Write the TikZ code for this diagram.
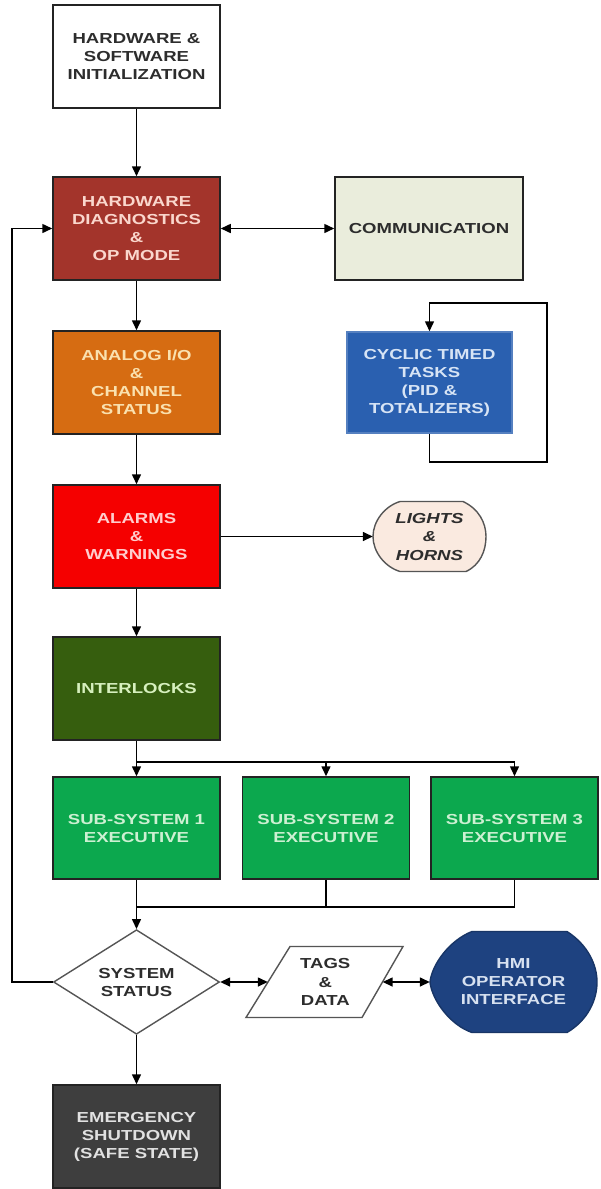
\documentclass[tikz,border=0pt]{standalone}
\usepackage{fontspec}
\newfontfamily\lbl{Liberation Sans}[FakeStretch=1.28]
\usetikzlibrary{arrows.meta,shapes.geometric}
\definecolor{diagfill}{RGB}{163,52,43}
\definecolor{diagtxt}{RGB}{250,215,205}
\definecolor{analogfill}{RGB}{214,108,18}
\definecolor{analogtxt}{RGB}{250,225,175}
\definecolor{alarmfill}{RGB}{245,0,0}
\definecolor{alarmtxt}{RGB}{255,205,205}
\definecolor{interfill}{RGB}{54,94,14}
\definecolor{intertxt}{RGB}{215,240,190}
\definecolor{subfill}{RGB}{12,168,78}
\definecolor{subtxt}{RGB}{205,240,210}
\definecolor{cycfill}{RGB}{42,96,176}
\definecolor{cyctxt}{RGB}{215,228,245}
\definecolor{hmifill}{RGB}{30,66,128}
\definecolor{hmitxt}{RGB}{215,225,240}
\definecolor{emfill}{RGB}{62,62,62}
\definecolor{emtxt}{RGB}{225,225,225}
\definecolor{commfill}{RGB}{234,237,220}
\definecolor{lightfill}{RGB}{250,234,224}
\definecolor{txtdark}{RGB}{45,45,45}
\definecolor{edge}{RGB}{35,35,35}
\definecolor{grayedge}{RGB}{85,85,85}
\begin{document}
\begin{tikzpicture}[x=1pt,y=-1pt,
  lbltext/.style={font=\lbl\bfseries\fontsize{14.5}{18}\selectfont, align=center},
  box/.style={lbltext, draw=edge, line width=1.5pt, minimum width=167pt, minimum height=103pt, inner sep=0pt},
  free/.style={lbltext, inner sep=0pt},
  ln/.style={line width=1.5pt, draw=black},
  arr/.style={ln, -{Triangle[length=10pt,width=9pt]}},
  dbl/.style={ln, {Triangle[length=10pt,width=9pt]}-{Triangle[length=10pt,width=9pt]}}]
\fill[white] (0,0) rectangle (600,1189);
\useasboundingbox (0,0) rectangle (600,1189);

% main column
\node[box, fill=white, text=txtdark] (init) at (136.5,56.5) {HARDWARE \&\\SOFTWARE\\INITIALIZATION};
\node[box, fill=diagfill, text=diagtxt] (diag) at (136.5,228.5) {HARDWARE\\DIAGNOSTICS\\\&\\OP MODE};
\node[box, fill=analogfill, text=analogtxt] (analog) at (136.5,382.5) {ANALOG I/O\\\&\\CHANNEL\\STATUS};
\node[box, fill=alarmfill, text=alarmtxt] (alarms) at (136.5,536.5) {ALARMS\\\&\\WARNINGS};
\node[box, fill=interfill, text=intertxt] (inter) at (136.5,688.5) {INTERLOCKS};
\node[box, fill=subfill, text=subtxt, minimum height=102pt] (sub1) at (136.5,828) {SUB-SYSTEM 1\\EXECUTIVE};
\node[box, fill=subfill, text=subtxt, minimum height=102pt] (sub2) at (326,828) {SUB-SYSTEM 2\\EXECUTIVE};
\node[box, fill=subfill, text=subtxt, minimum height=102pt] (sub3) at (514.5,828) {SUB-SYSTEM 3\\EXECUTIVE};
\node[lbltext, diamond, draw=grayedge, line width=1.4pt, fill=white, text=txtdark, minimum width=166pt, minimum height=101pt, inner sep=0pt] (sys) at (136.5,982) {SYSTEM\\STATUS};
\node[box, fill=emfill, text=emtxt] (emerg) at (136.5,1136.5) {EMERGENCY\\SHUTDOWN\\(SAFE STATE)};

% right column
\node[box, fill=commfill, text=txtdark, minimum width=188pt] (comm) at (429,228.5) {COMMUNICATION};
\node[box, fill=cycfill, draw=cycfill!80!white, text=cyctxt, minimum width=165pt, minimum height=101pt] (cyc) at (429.5,382.5) {CYCLIC TIMED\\TASKS\\(PID \&\\TOTALIZERS)};

% lights & horns (display shape)
\filldraw[fill=lightfill, draw=grayedge, line width=1.4pt]
  (400,501.5) -- (463,501.5) .. controls (479,509) and (486,523) .. (486,536.5)
  .. controls (486,551) and (480,565) .. (466,571.5) -- (400,571.5)
  .. controls (385,567) and (373,552) .. (373,536.5)
  .. controls (373,521) and (385,506) .. (400,501.5) -- cycle;
\node[free, text=txtdark, font=\lbl\bfseries\itshape\fontsize{14.5}{18.5}\selectfont, minimum width=113pt, minimum height=70pt] (lights) at (429.5,536.5) {LIGHTS\\\&\\HORNS};

% tags & data (parallelogram)
\filldraw[fill=white, draw=grayedge, line width=1.4pt]
  (290,946.5) -- (403,946.5) -- (362,1017.5) -- (246,1017.5) -- cycle;
\node[free, text=txtdark, font=\lbl\bfseries\fontsize{14.5}{18.5}\selectfont, minimum width=114.5pt, minimum height=71pt] (tags) at (325.25,982) {TAGS\\\&\\DATA};

% HMI operator interface (display shape)
\filldraw[fill=hmifill, draw=hmifill!80!black, line width=1.4pt]
  (472,931.5) -- (567,931.5) .. controls (588,945) and (597,965) .. (597,982)
  .. controls (597,1000) and (588,1020) .. (567,1032.5) -- (472,1032.5)
  .. controls (450,1025) and (432,1000) .. (430,982)
  .. controls (432,964) and (450,940) .. (472,931.5) -- cycle;
\node[free, text=hmitxt, minimum width=167pt, minimum height=101pt] (hmi) at (513.5,982) {HMI\\OPERATOR\\INTERFACE};

% connector points
\coordinate (bt) at (136.5,762);
\coordinate (bb) at (136.5,907);
\coordinate (fb) at (12,982);
\coordinate (c1) at (547,462);
\coordinate (c2) at (547,303);

% connectors
\draw[arr] (init) -- (diag);
\draw[dbl] (diag) -- (comm);
\draw[arr] (diag) -- (analog);
\draw[arr] (analog) -- (alarms);
\draw[arr] (alarms) -- (inter);
\draw[arr] (alarms) -- (lights);
\draw[arr] (inter) -- (sub1);
\draw[arr] (bt) -| (sub2.north);
\draw[arr] (bt) -| (sub3.north);
\draw[arr] (sub1) -- (sys);
\draw[ln] (sub2.south) |- (bb);
\draw[ln] (sub3.south) |- (bb);
\draw[arr] (sys.west) -- (fb) |- (diag.west);
\draw[arr] (cyc.south) |- (c1) -- (c2) -| (cyc.north);
\draw[dbl] (sys.east) -- (tags.west);
\draw[dbl] (tags.east) -- (hmi.west);
\draw[arr] (sys) -- (emerg);
\end{tikzpicture}
\end{document}
